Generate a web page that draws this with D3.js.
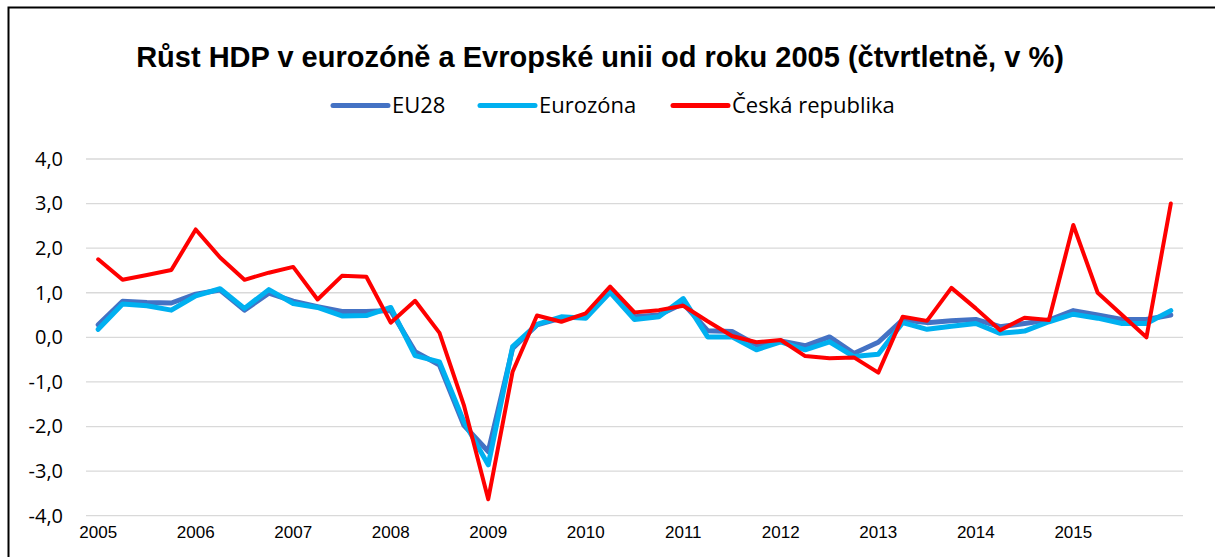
<!DOCTYPE html>
<html>
<head>
<meta charset="utf-8">
<script src="https://cdn.jsdelivr.net/npm/d3@7"></script>
<style>
  body { margin: 0; background: #fff; }
  svg { display: block; }
</style>
</head>
<body>
<div id="chart"></div>
<script>
// quarterly GDP growth, 2005Q1 .. 2016Q1
const quarters = [];
for (let y = 2005; y <= 2016; y++) {
  for (let q = 1; q <= 4; q++) {
    if (y === 2016 && q > 1) break;
    quarters.push(y + "Q" + q);
  }
}

// years printed under the axis (2016 has no label in the original)
const yearLabels = ["2005", "2006", "2007", "2008", "2009", "2010",
                    "2011", "2012", "2013", "2014", "2015"];

const eu28 = [0.28, 0.81, 0.78, 0.77, 0.97, 1.06, 0.61, 0.99, 0.81, 0.69,
              0.58, 0.58, 0.60, -0.32, -0.62, -1.97, -2.56, -0.25, 0.28, 0.43,
              0.46, 1.02, 0.46, 0.50, 0.76, 0.15, 0.13, -0.17, -0.08, -0.19,
              0.01, -0.36, -0.11, 0.39, 0.33, 0.37, 0.40, 0.24, 0.31, 0.39,
              0.60, 0.50, 0.40, 0.40, 0.50];

const eurozona = [0.18, 0.75, 0.71, 0.61, 0.93, 1.09, 0.65, 1.07, 0.76, 0.67,
                  0.48, 0.49, 0.67, -0.41, -0.55, -1.89, -2.86, -0.21, 0.29, 0.46,
                  0.43, 1.01, 0.40, 0.46, 0.87, 0.01, 0.01, -0.28, -0.10, -0.28,
                  -0.10, -0.43, -0.38, 0.33, 0.18, 0.25, 0.31, 0.09, 0.14, 0.35,
                  0.52, 0.43, 0.31, 0.31, 0.60];

const cesko = [1.75, 1.29, 1.40, 1.51, 2.42, 1.79, 1.29, 1.45, 1.58, 0.85,
               1.38, 1.36, 0.33, 0.82, 0.10, -1.52, -3.63, -0.77, 0.49, 0.35,
               0.54, 1.14, 0.56, 0.61, 0.71, 0.36, 0.03, -0.11, -0.06, -0.42,
               -0.47, -0.45, -0.79, 0.46, 0.37, 1.11, 0.65, 0.16, 0.44, 0.39,
               2.52, 1.00, 0.50, 0.00, 3.00];

const yTicks = [-4, -3, -2, -1, 0, 1, 2, 3, 4];

const seriesNames = ["EU28", "Eurozóna", "Česká republika"];
const seriesColors = ["#4472c4", "#00b0f0", "#ff0000"];
const seriesWidths = [5, 5, 4];
const allSeries = [eu28, eurozona, cesko];

const W = 1215, H = 557;
const plot = {left: 86, right: 1183, top: 159, bottom: 515.7};

const svg = d3.select("#chart")
    .append("svg")
    .attr("width", W)
    .attr("height", H);

svg.append("rect")
    .attr("width", W).attr("height", H)
    .attr("fill", "#fff");

// chart frame (only left and top edges fall inside the picture)
svg.append("rect")
    .attr("x", 8.5).attr("y", 7.5)
    .attr("width", W + 20).attr("height", H + 20)
    .attr("fill", "none")
    .attr("stroke", "#000")
    .attr("stroke-width", 2);

const x = d3.scaleBand()
    .domain(quarters)
    .range([plot.left, plot.right])
    .padding(0);

const y = d3.scaleLinear()
    .domain([-4, 4])
    .range([plot.bottom, plot.top]);

const fmt = d => d.toFixed(1).replace(".", ",");

// gridlines
svg.append("g")
    .attr("class", "grid")
    .selectAll("line")
    .data(yTicks)
    .enter().append("line")
    .attr("x1", plot.left)
    .attr("x2", plot.right)
    .attr("y1", d => y(d))
    .attr("y2", d => y(d))
    .attr("stroke", "#d9d9d9")
    .attr("stroke-width", 1.3);

// y axis labels
const yAxis = svg.append("g")
    .attr("transform", "translate(72,0)")
    .call(d3.axisLeft(y).tickValues(yTicks).tickFormat(fmt).tickSize(0).tickPadding(9));
yAxis.select(".domain").remove();
yAxis.selectAll("text")
    .attr("fill", "#000")
    .style("font-family", "'Open Sans', Lato, sans-serif")
    .style("font-size", "20px");

// x axis labels (year at every first quarter)
const xAxis = svg.append("g")
    .attr("transform", `translate(0, ${plot.bottom})`)
    .call(d3.axisBottom(x)
        .tickValues(yearLabels.map(yr => yr + "Q1"))
        .tickFormat(q => q.slice(0, 4))
        .tickSize(0)
        .tickPadding(10));
xAxis.select(".domain").remove();
xAxis.selectAll("text")
    .attr("fill", "#000")
    .style("font-family", "'Liberation Sans', Arial, sans-serif")
    .style("font-size", "17px");

// lines
const line = d3.line()
    .x((d, i) => x(quarters[i]) + x.bandwidth() / 2)
    .y(d => y(d));

svg.append("g")
    .selectAll("path")
    .data(allSeries)
    .enter().append("path")
    .attr("d", d => line(d))
    .attr("fill", "none")
    .attr("stroke", (d, i) => seriesColors[i])
    .attr("stroke-width", (d, i) => seriesWidths[i])
    .attr("stroke-linejoin", "round")
    .attr("stroke-linecap", "round");

// title
svg.append("text")
    .attr("x", 600)
    .attr("y", 67)
    .attr("text-anchor", "middle")
    .style("font-family", "'Liberation Sans', Arial, sans-serif")
    .style("font-weight", "bold")
    .style("font-size", "29px")
    .text("Růst HDP v eurozóně a Evropské unii od roku 2005 (čtvrtletně, v %)");

// legend
const legendX = [333, 480, 673];
const legend = svg.append("g")
    .selectAll("g")
    .data(seriesNames)
    .enter().append("g")
    .attr("transform", (d, i) => `translate(${legendX[i]}, 105.5)`);

legend.append("line")
    .attr("x1", 0).attr("x2", 55)
    .attr("stroke", (d, i) => seriesColors[i])
    .attr("stroke-width", 5)
    .attr("stroke-linecap", "round");

legend.append("text")
    .attr("x", 59)
    .attr("y", 7.5)
    .style("font-family", "'Open Sans', Lato, sans-serif")
    .style("font-size", "22px")
    .text(d => d);
</script>
</body>
</html>
